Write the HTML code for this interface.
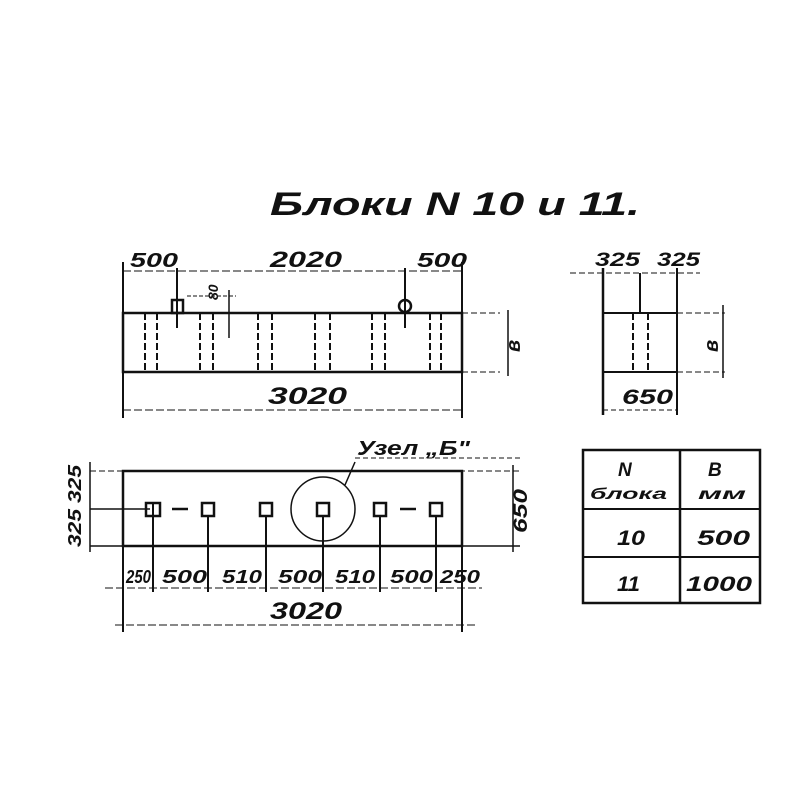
<!DOCTYPE html>
<html><head><meta charset="utf-8"><style>
html,body{margin:0;padding:0;background:#fff;}
svg{display:block}
text{font-family:"Liberation Sans","DejaVu Sans",sans-serif;font-style:italic;font-weight:bold;fill:#111;}
</style></head><body>
<svg width="800" height="800" viewBox="0 0 800 800" xmlns="http://www.w3.org/2000/svg">
<text x="270" y="215" font-size="32" textLength="370" lengthAdjust="spacingAndGlyphs">Блоки N 10 и 11.</text>

<!-- Front elevation -->
<g stroke="#111" fill="none">
<rect x="123" y="313" width="339" height="59" stroke-width="2.5"/>
<line x1="462" y1="313" x2="500" y2="313" stroke-width="1" stroke-dasharray="6,3"/>
<line x1="462" y1="372" x2="500" y2="372" stroke-width="1" stroke-dasharray="6,3"/>
<line x1="123" y1="262" x2="123" y2="418" stroke-width="2"/>
<line x1="462" y1="262" x2="462" y2="418" stroke-width="2"/>
<line x1="123" y1="271" x2="462" y2="271" stroke-width="1" stroke-dasharray="8,3"/>
<line x1="123" y1="410" x2="462" y2="410" stroke-width="1" stroke-dasharray="8,3"/>
<line x1="177" y1="268" x2="177" y2="328" stroke-width="2"/>
<line x1="405" y1="268" x2="405" y2="328" stroke-width="2"/>
<rect x="172" y="300" width="11" height="13" stroke-width="2.5"/>
<circle cx="405" cy="306" r="6" stroke-width="2.5"/>
<line x1="229" y1="290" x2="229" y2="338" stroke-width="1.5"/>
<line x1="187" y1="296" x2="236" y2="296" stroke-width="1" stroke-dasharray="4,2"/>
<line x1="508" y1="310" x2="508" y2="376" stroke-width="1.5"/>
<g stroke-width="2" stroke-dasharray="7,3">
<line x1="145" y1="313" x2="145" y2="372"/><line x1="157" y1="313" x2="157" y2="372"/>
<line x1="200" y1="313" x2="200" y2="372"/><line x1="213" y1="313" x2="213" y2="372"/>
<line x1="258" y1="313" x2="258" y2="372"/><line x1="272" y1="313" x2="272" y2="372"/>
<line x1="315" y1="313" x2="315" y2="372"/><line x1="330" y1="313" x2="330" y2="372"/>
<line x1="372" y1="313" x2="372" y2="372"/><line x1="385" y1="313" x2="385" y2="372"/>
<line x1="430" y1="313" x2="430" y2="372"/><line x1="441" y1="313" x2="441" y2="372"/>
</g>
</g>
<text x="130" y="267" font-size="20" textLength="48" lengthAdjust="spacingAndGlyphs">500</text>
<text x="270" y="267" font-size="22" textLength="72" lengthAdjust="spacingAndGlyphs">2020</text>
<text x="417" y="267" font-size="20" textLength="50" lengthAdjust="spacingAndGlyphs">500</text>
<text x="268" y="404" font-size="24" textLength="79" lengthAdjust="spacingAndGlyphs">3020</text>
<text x="218" y="300" font-size="14" transform="rotate(-90 218 300)">80</text>
<text x="520" y="352" font-size="20" transform="rotate(-90 520 352)">в</text>

<!-- Side view -->
<g stroke="#111" fill="none">
<line x1="603" y1="268" x2="603" y2="415" stroke-width="2.5"/>
<line x1="677" y1="268" x2="677" y2="415" stroke-width="2"/>
<line x1="570" y1="273" x2="700" y2="273" stroke-width="1" stroke-dasharray="6,3"/>
<rect x="603" y="313" width="74" height="59" stroke-width="2"/>
<line x1="677" y1="313" x2="725" y2="313" stroke-width="1" stroke-dasharray="6,3"/>
<line x1="677" y1="372" x2="725" y2="372" stroke-width="1" stroke-dasharray="6,3"/>
<line x1="603" y1="410" x2="677" y2="410" stroke-width="1" stroke-dasharray="5,3"/>
<line x1="640" y1="273" x2="640" y2="313" stroke-width="2"/>
<line x1="633" y1="313" x2="633" y2="372" stroke-width="2" stroke-dasharray="7,3"/>
<line x1="648" y1="313" x2="648" y2="372" stroke-width="2" stroke-dasharray="7,3"/>
<line x1="723" y1="305" x2="723" y2="378" stroke-width="1.5"/>
</g>
<text x="595" y="266" font-size="19" textLength="45" lengthAdjust="spacingAndGlyphs">325</text>
<text x="657" y="266" font-size="19" textLength="43" lengthAdjust="spacingAndGlyphs">325</text>
<text x="622" y="404" font-size="21" textLength="51" lengthAdjust="spacingAndGlyphs">650</text>
<text x="718" y="352" font-size="20" transform="rotate(-90 718 352)">в</text>

<!-- Plan view -->
<g stroke="#111" fill="none">
<rect x="123" y="471" width="339" height="75" stroke-width="2.5"/>
<line x1="90" y1="471" x2="520" y2="471" stroke-width="1" stroke-dasharray="6,3"/>
<line x1="90" y1="546" x2="520" y2="546" stroke-width="1.5"/>
<line x1="90" y1="509" x2="150" y2="509" stroke-width="1.5"/>
<line x1="172" y1="509" x2="188" y2="509" stroke-width="2.5"/>
<line x1="400" y1="509" x2="416" y2="509" stroke-width="2.5"/>
<line x1="90" y1="462" x2="90" y2="552" stroke-width="1.5"/>
<line x1="513" y1="465" x2="513" y2="552" stroke-width="1.5"/>
<line x1="123" y1="471" x2="123" y2="632" stroke-width="2"/>
<line x1="462" y1="471" x2="462" y2="632" stroke-width="2"/>
<line x1="105" y1="588" x2="482" y2="588" stroke-width="1" stroke-dasharray="8,3"/>
<line x1="115" y1="625" x2="475" y2="625" stroke-width="1" stroke-dasharray="8,3"/>
<circle cx="323" cy="509" r="32" stroke-width="1.5"/>
<line x1="345" y1="485" x2="355" y2="462" stroke-width="1.5"/>
<line x1="355" y1="458" x2="520" y2="458" stroke-width="1" stroke-dasharray="5,3"/>
<g stroke-width="2.5">
<rect x="146" y="503" width="14" height="13"/>
<rect x="202" y="503" width="12" height="13"/>
<rect x="260" y="503" width="12" height="13"/>
<rect x="317" y="503" width="12" height="13"/>
<rect x="374" y="503" width="12" height="13"/>
<rect x="430" y="503" width="12" height="13"/>
</g>
<g stroke-width="2">
<line x1="153" y1="503" x2="153" y2="592"/>
<line x1="208" y1="516" x2="208" y2="592"/>
<line x1="266" y1="516" x2="266" y2="592"/>
<line x1="323" y1="516" x2="323" y2="592"/>
<line x1="380" y1="516" x2="380" y2="592"/>
<line x1="436" y1="516" x2="436" y2="592"/>
</g>
</g>
<text x="357" y="455" font-size="20" textLength="113" lengthAdjust="spacingAndGlyphs">Узел „Б"</text>
<text x="81" y="547" font-size="18" textLength="38" lengthAdjust="spacingAndGlyphs" transform="rotate(-90 81 547)">325</text>
<text x="81" y="503" font-size="18" textLength="38" lengthAdjust="spacingAndGlyphs" transform="rotate(-90 81 503)">325</text>
<text x="527" y="533" font-size="19" textLength="44" lengthAdjust="spacingAndGlyphs" transform="rotate(-90 527 533)">650</text>
<g font-size="18">
<text x="126" y="583" textLength="25" lengthAdjust="spacingAndGlyphs">250</text>
<text x="162" y="583" textLength="45" lengthAdjust="spacingAndGlyphs">500</text>
<text x="222" y="583" textLength="40" lengthAdjust="spacingAndGlyphs">510</text>
<text x="278" y="583" textLength="44" lengthAdjust="spacingAndGlyphs">500</text>
<text x="335" y="583" textLength="40" lengthAdjust="spacingAndGlyphs">510</text>
<text x="390" y="583" textLength="43" lengthAdjust="spacingAndGlyphs">500</text>
<text x="440" y="583" textLength="40" lengthAdjust="spacingAndGlyphs">250</text>
</g>
<text x="270" y="619" font-size="24" textLength="72" lengthAdjust="spacingAndGlyphs">3020</text>

<!-- Table -->
<g stroke="#111" fill="none" stroke-width="2.5">
<rect x="583" y="450" width="177" height="153"/>
<line x1="680" y1="450" x2="680" y2="603"/>
<line x1="583" y1="509" x2="760" y2="509" stroke-width="2"/>
<line x1="583" y1="557" x2="760" y2="557" stroke-width="2"/>
</g>
<text x="618" y="476" font-size="19">N</text>
<text x="590" y="499" font-size="16" textLength="77" lengthAdjust="spacingAndGlyphs">блока</text>
<text x="708" y="476" font-size="19">В</text>
<text x="698" y="499" font-size="16" textLength="48" lengthAdjust="spacingAndGlyphs">мм</text>
<text x="617" y="545" font-size="21" textLength="28" lengthAdjust="spacingAndGlyphs">10</text>
<text x="697" y="545" font-size="21" textLength="53" lengthAdjust="spacingAndGlyphs">500</text>
<text x="617" y="591" font-size="21" textLength="23" lengthAdjust="spacingAndGlyphs">11</text>
<text x="686" y="591" font-size="21" textLength="66" lengthAdjust="spacingAndGlyphs">1000</text>
</svg>
</body></html>
